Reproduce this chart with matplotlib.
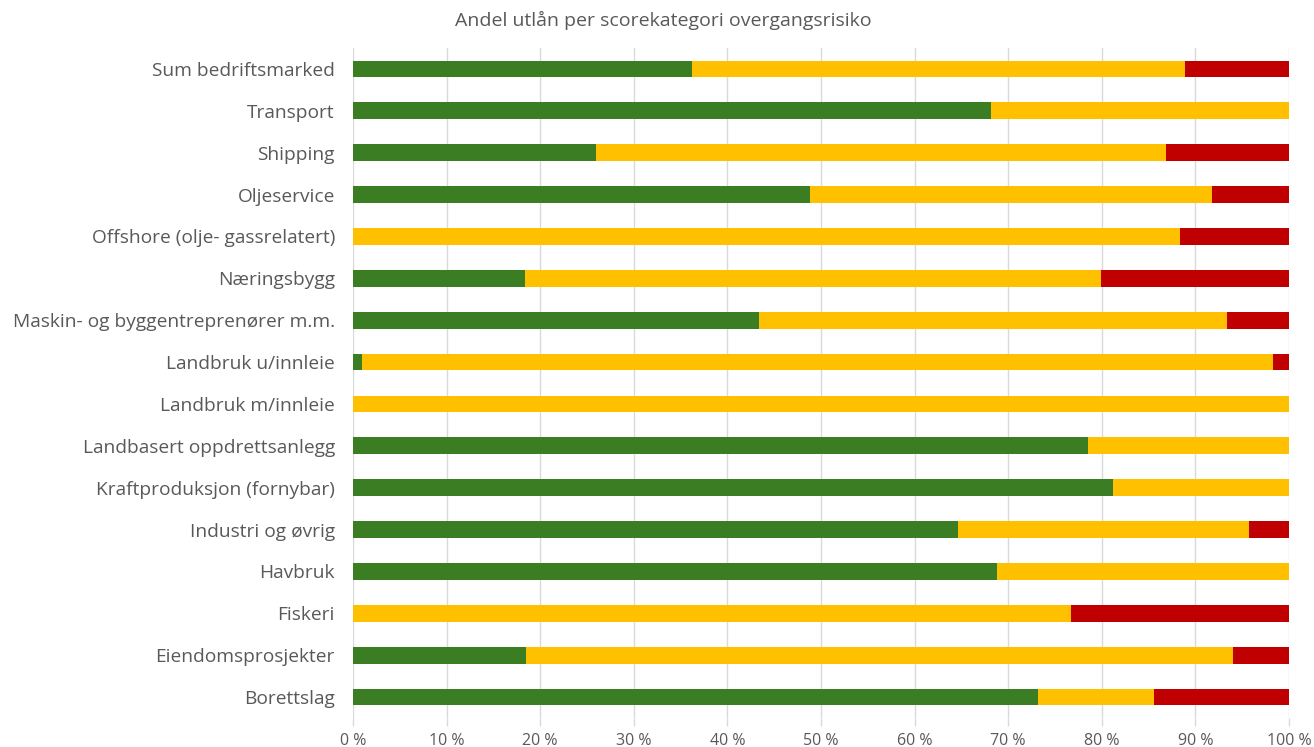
import numpy as np
import matplotlib.pyplot as plt
from matplotlib.ticker import FuncFormatter

# data <<<
categories = [
    "Sum bedriftsmarked",
    "Transport",
    "Shipping",
    "Oljeservice",
    "Offshore (olje- gassrelatert)",
    "Næringsbygg",
    "Maskin- og byggentreprenører m.m.",
    "Landbruk u/innleie",
    "Landbruk m/innleie",
    "Landbasert oppdrettsanlegg",
    "Kraftproduksjon (fornybar)",
    "Industri og øvrig",
    "Havbruk",
    "Fiskeri",
    "Eiendomsprosjekter",
    "Borettslag",
]
green = [36.2, 68.2, 26.0, 48.8, 0.0, 18.4, 43.4, 1.0, 0.0, 78.5, 81.2, 64.6, 68.8, 0.0, 18.5, 73.2]
yellow = [52.7, 31.8, 60.9, 43.0, 88.4, 61.5, 50.0, 97.3, 100.0, 21.5, 18.8, 31.1, 31.2, 76.7, 75.5, 12.4]
red = [11.1, 0.0, 13.1, 8.2, 11.6, 20.1, 6.6, 1.7, 0.0, 0.0, 0.0, 4.3, 0.0, 23.3, 6.0, 14.4]
# >>>

plt.rcParams["font.family"] = ["Open Sans", "DejaVu Sans"]
text_col = "#595959"

fig = plt.figure(figsize=(13.14, 7.47), dpi=100)
ax = fig.add_axes([0.2686, 0.0388, 0.7124, 0.897])

y = np.arange(len(categories))[::-1]
g = np.array(green)
yl = np.array(yellow)
r = np.array(red)
h = 0.4
ax.barh(y, g, height=h, color="#3A7D22", zorder=3)
ax.barh(y, yl, left=g, height=h, color="#FFC000", zorder=3)
ax.barh(y, r, left=g + yl, height=h, color="#C00000", zorder=3)

ax.set_xlim(0, 100)
ax.set_ylim(-0.5, len(categories) - 0.5)
ax.set_yticks(y)
ax.set_yticklabels(categories, fontsize=13.8, color=text_col)
ax.set_xticks(np.arange(0, 101, 10))
ax.xaxis.set_major_formatter(FuncFormatter(lambda v, p: f"{int(v)} %"))
ax.tick_params(axis="x", colors="#d9d9d9", labelcolor=text_col, labelsize=11.5, length=6, width=1, pad=5)
ax.tick_params(axis="y", length=0, pad=13)
ax.grid(axis="x", color="#d9d9d9", linewidth=1, zorder=0)
for s in ax.spines.values():
    s.set_visible(False)

fig.text(0.505, 0.972, "Andel utlån per scorekategori overgangsrisiko", ha="center", va="center",
         fontsize=14, color=text_col)

fig.savefig("out.png", dpi=100)
